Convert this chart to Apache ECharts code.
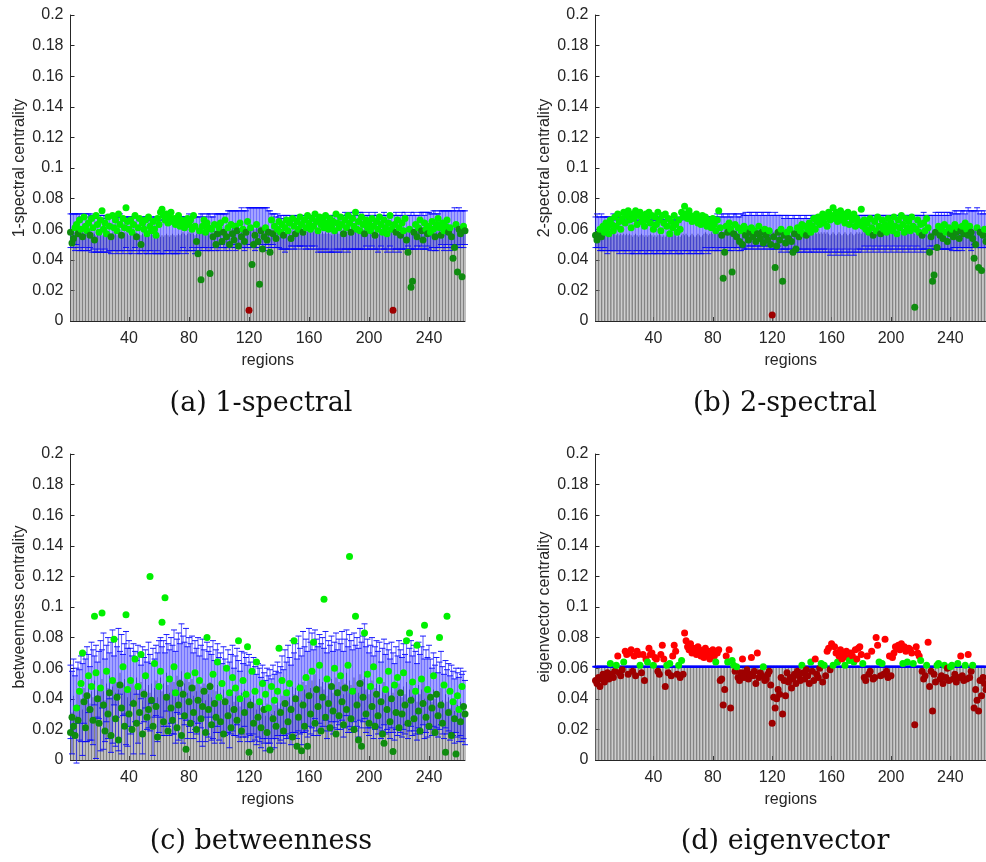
<!DOCTYPE html>
<html><head><meta charset="utf-8">
<script src="https://cdn.jsdelivr.net/npm/echarts@6/dist/echarts.min.js"></script>
<style>html,body{margin:0;padding:0;background:#fff}#c{width:986px;height:862px}</style>
</head><body><div id="c"></div>
<script>
// x tick labels (region index)
const regionTicks = [40, 80, 120, 160, 200, 240];
const regionCount = 264;

// ---------- (a) 1-spectral ----------
const mean_a = [
.059,.060,.059,.058,.060,.059,.058,.057,.058,.059,.058,.057,.058,.059,.057,.058,.057,.056,.057,.058,
.057,.056,.057,.058,.057,.056,.057,.056,.057,.058,.057,.056,.057,.058,.057,.056,.057,.058,.057,.056,
.057,.056,.057,.058,.057,.056,.055,.056,.057,.056,.057,.056,.055,.056,.057,.056,.055,.056,.057,.056,
.055,.056,.055,.056,.057,.056,.055,.056,.057,.056,.055,.056,.057,.056,.057,.058,.057,.056,.057,.058,
.057,.058,.057,.056,.057,.058,.057,.058,.059,.058,.057,.058,.059,.058,.057,.058,.059,.058,.059,.058,
.059,.060,.059,.058,.059,.060,.059,.060,.061,.060,.059,.060,.061,.060,.061,.060,.059,.060,.061,.062,
.061,.062,.061,.060,.061,.062,.061,.062,.061,.060,.061,.062,.061,.060,.059,.060,.059,.058,.059,.058,
.058,.057,.058,.057,.058,.057,.058,.059,.058,.057,.058,.059,.058,.059,.058,.059,.058,.057,.058,.059,
.058,.059,.058,.059,.058,.057,.058,.057,.058,.057,.058,.057,.058,.057,.056,.057,.058,.057,.058,.057,
.058,.057,.058,.059,.058,.057,.058,.059,.058,.059,.058,.059,.058,.059,.058,.059,.058,.059,.058,.059,
.058,.059,.058,.059,.058,.057,.058,.059,.058,.059,.058,.057,.058,.059,.058,.057,.058,.059,.058,.057,
.058,.059,.058,.059,.058,.059,.058,.059,.058,.059,.058,.059,.058,.059,.060,.059,.058,.059,.060,.059,
.058,.059,.060,.059,.058,.059,.060,.061,.060,.059,.060,.061,.060,.059,.060,.061,.062,.061,.060,.061,
.060,.061,.060,.061];
const std_a = [
.011,.010,.011,.012,.010,.011,.012,.011,.012,.011,.012,.011,.012,.011,.012,.011,.012,.011,.012,.011,
.012,.011,.012,.011,.012,.011,.011,.012,.011,.012,.011,.012,.011,.012,.011,.012,.011,.010,.011,.012,
.011,.012,.011,.010,.011,.012,.011,.010,.011,.012,.011,.012,.011,.010,.011,.012,.011,.012,.011,.012,
.011,.012,.011,.012,.011,.010,.011,.012,.011,.012,.011,.012,.011,.012,.011,.010,.011,.012,.011,.012,
.011,.010,.011,.012,.011,.010,.011,.012,.011,.010,.011,.012,.011,.012,.011,.010,.011,.012,.011,.012,
.011,.010,.011,.012,.011,.012,.013,.012,.011,.012,.013,.012,.011,.012,.013,.012,.013,.012,.013,.012,
.013,.012,.013,.014,.013,.012,.013,.012,.013,.014,.013,.012,.011,.012,.011,.010,.011,.010,.011,.010,
.011,.010,.011,.012,.011,.010,.011,.010,.009,.010,.011,.010,.009,.010,.011,.010,.009,.010,.011,.010,
.011,.010,.011,.010,.011,.012,.011,.012,.011,.012,.011,.012,.011,.012,.011,.012,.011,.012,.011,.012,
.011,.012,.011,.012,.011,.012,.011,.012,.011,.012,.011,.012,.011,.012,.011,.012,.011,.010,.011,.012,
.011,.010,.011,.012,.011,.012,.011,.010,.011,.012,.011,.012,.011,.010,.011,.012,.011,.012,.011,.012,
.011,.012,.011,.012,.011,.010,.011,.012,.011,.012,.011,.010,.011,.012,.011,.012,.011,.012,.011,.012,
.012,.011,.012,.013,.012,.011,.012,.011,.012,.013,.012,.011,.012,.013,.012,.011,.012,.011,.012,.013,
.012,.011,.012,.011];
const pt_a = [
.058,.051,.054,.061,.063,.057,.066,.060,.055,.068,.062,.059,.064,.056,.067,.061,.053,.069,.063,.058,
.066,.072,.060,.064,.057,.068,.062,.055,.069,.061,.066,.059,.070,.063,.056,.067,.061,.074,.065,.060,
.066,.058,.063,.069,.055,.061,.067,.050,.064,.060,.066,.057,.068,.062,.059,.065,.060,.056,.067,.063,
.071,.073,.069,.066,.070,.064,.068,.071,.065,.067,.063,.066,.069,.062,.066,.064,.061,.065,.067,.063,
.066,.060,.069,.062,.052,.044,.059,.027,.062,.066,.058,.064,.061,.031,.060,.055,.063,.050,.057,.061,
.064,.052,.058,.066,.055,.061,.050,.063,.057,.053,.062,.059,.049,.064,.055,.060,.052,.058,.065,.007,
.061,.037,.050,.056,.063,.052,.024,.059,.047,.055,.061,.053,.058,.045,.066,.057,.062,.054,.060,.065,
.058,.063,.056,.061,.066,.059,.064,.054,.067,.062,.057,.065,.060,.068,.063,.058,.066,.061,.069,.064,
.060,.067,.062,.070,.065,.059,.068,.063,.066,.061,.069,.064,.060,.067,.062,.065,.059,.070,.064,.061,
.068,.063,.057,.066,.061,.069,.064,.058,.067,.062,.071,.060,.065,.059,.068,.063,.057,.066,.061,.064,
.059,.067,.062,.056,.065,.060,.068,.063,.058,.066,.061,.057,.064,.069,.060,.007,.063,.058,.066,.061,
.056,.064,.059,.067,.053,.045,.060,.022,.026,.058,.063,.055,.061,.066,.059,.053,.064,.060,.057,.062,
.058,.065,.060,.055,.063,.067,.061,.056,.064,.059,.062,.066,.058,.061,.055,.041,.048,.063,.032,.060,
.057,.029,.062,.059];
const flagged_a = [120, 216];

// ---------- (b) 2-spectral ----------
const mean_b = [
.058,.059,.058,.057,.058,.057,.058,.057,.056,.057,.056,.057,.058,.057,.056,.057,.056,.057,.056,.057,
.056,.057,.056,.057,.056,.055,.056,.057,.056,.055,.056,.057,.056,.055,.056,.055,.056,.057,.056,.055,
.056,.055,.056,.057,.056,.055,.056,.055,.056,.057,.056,.055,.056,.057,.056,.055,.056,.055,.056,.057,
.056,.057,.056,.055,.056,.057,.056,.055,.056,.057,.056,.055,.056,.057,.058,.057,.056,.057,.058,.057,
.058,.057,.058,.057,.058,.059,.058,.057,.058,.059,.058,.057,.058,.059,.058,.059,.058,.057,.058,.059,
.058,.059,.058,.059,.060,.059,.058,.059,.060,.059,.058,.059,.060,.059,.058,.059,.060,.059,.058,.059,
.058,.059,.058,.059,.058,.057,.058,.057,.058,.057,.058,.057,.056,.057,.058,.057,.056,.057,.058,.057,
.056,.057,.058,.057,.056,.057,.058,.057,.058,.057,.058,.057,.058,.057,.058,.057,.058,.057,.056,.057,
.058,.057,.056,.057,.058,.057,.056,.057,.058,.057,.056,.057,.058,.057,.056,.057,.058,.057,.058,.057,
.058,.059,.058,.057,.058,.059,.058,.057,.058,.059,.058,.057,.058,.059,.058,.057,.058,.059,.058,.057,
.058,.059,.058,.057,.058,.059,.058,.057,.058,.059,.058,.057,.058,.059,.058,.057,.058,.059,.058,.057,
.058,.059,.058,.057,.058,.059,.058,.059,.058,.059,.058,.059,.058,.059,.058,.059,.058,.059,.058,.059,
.058,.059,.060,.059,.058,.059,.060,.059,.060,.059,.060,.061,.060,.059,.060,.061,.060,.061,.060,.059,
.060,.059,.060,.059];
const std_b = [
.010,.011,.010,.011,.012,.011,.010,.011,.012,.011,.010,.011,.012,.011,.010,.011,.012,.011,.010,.011,
.012,.011,.010,.011,.012,.011,.012,.011,.010,.011,.012,.011,.010,.011,.012,.011,.010,.011,.012,.011,
.010,.011,.012,.011,.010,.011,.012,.011,.010,.011,.012,.011,.010,.011,.012,.011,.010,.011,.012,.011,
.012,.011,.010,.011,.012,.011,.010,.011,.012,.011,.010,.011,.012,.011,.010,.011,.012,.011,.010,.011,
.010,.011,.012,.011,.010,.011,.012,.011,.010,.011,.012,.011,.010,.011,.012,.011,.010,.011,.012,.011,
.011,.012,.011,.010,.011,.012,.011,.010,.011,.012,.011,.010,.011,.012,.011,.010,.011,.012,.011,.010,
.011,.012,.011,.010,.011,.012,.011,.010,.011,.012,.011,.010,.011,.012,.011,.010,.011,.012,.011,.010,
.011,.012,.011,.010,.011,.012,.011,.012,.011,.012,.011,.012,.011,.012,.011,.012,.011,.012,.013,.012,
.011,.012,.013,.012,.011,.012,.013,.012,.011,.012,.013,.012,.011,.012,.013,.012,.011,.012,.011,.012,
.011,.010,.011,.012,.011,.010,.011,.012,.011,.010,.011,.012,.011,.010,.011,.012,.011,.010,.011,.012,
.011,.010,.011,.012,.011,.010,.011,.012,.011,.010,.011,.012,.011,.010,.011,.012,.011,.010,.011,.012,
.011,.012,.011,.012,.011,.010,.011,.010,.011,.012,.011,.012,.011,.012,.011,.012,.011,.012,.011,.012,
.012,.011,.012,.013,.012,.011,.012,.013,.012,.011,.012,.013,.012,.013,.012,.011,.012,.013,.012,.011,
.012,.011,.012,.011];
const pt_b = [
.056,.053,.057,.060,.055,.062,.058,.064,.061,.057,.066,.063,.059,.068,.062,.070,.065,.060,.067,.071,
.064,.069,.072,.066,.061,.070,.067,.072,.063,.069,.071,.065,.068,.062,.070,.066,.071,.064,.069,.060,
.068,.063,.071,.066,.059,.069,.064,.070,.062,.067,.057,.065,.061,.069,.063,.058,.066,.060,.071,.068,
.075,.070,.067,.072,.069,.065,.068,.066,.070,.064,.067,.063,.069,.065,.068,.062,.066,.064,.061,.067,
.063,.059,.066,.072,.061,.056,.028,.045,.062,.058,.064,.060,.032,.057,.063,.055,.061,.052,.059,.050,
.062,.056,.060,.053,.058,.061,.055,.059,.052,.057,.062,.054,.058,.051,.060,.056,.053,.059,.050,.004,
.055,.035,.049,.058,.053,.060,.026,.056,.051,.058,.054,.060,.052,.045,.057,.047,.061,.055,.059,.063,
.057,.062,.056,.060,.064,.058,.062,.067,.060,.065,.068,.063,.066,.070,.064,.068,.062,.071,.066,.069,
.074,.067,.071,.065,.069,.072,.066,.070,.064,.068,.071,.063,.069,.066,.070,.062,.067,.065,.063,.073,
.062,.066,.060,.064,.058,.067,.061,.056,.065,.059,.068,.062,.057,.066,.060,.063,.058,.067,.061,.064,
.059,.068,.062,.057,.066,.061,.069,.063,.058,.067,.061,.065,.059,.068,.062,.009,.060,.066,.058,.063,
.056,.064,.059,.067,.061,.045,.055,.026,.030,.058,.048,.062,.056,.060,.054,.063,.058,.052,.061,.057,
.060,.055,.063,.058,.061,.054,.059,.062,.057,.064,.060,.056,.062,.058,.054,.041,.050,.061,.035,.058,
.033,.056,.060,.052];
const flagged_b = [120];

// ---------- (c) betweenness ----------
const mean_c = [
.038,.031,.042,.035,.029,.044,.036,.040,.033,.047,.039,.043,.050,.037,.045,.041,.052,.038,.046,.049,
.042,.053,.045,.039,.050,.047,.055,.041,.048,.052,.044,.051,.046,.057,.043,.049,.053,.047,.041,.050,
.045,.052,.040,.048,.054,.043,.047,.051,.039,.046,.053,.042,.049,.044,.050,.038,.047,.052,.041,.048,
.054,.045,.050,.043,.057,.049,.044,.052,.046,.051,.041,.055,.048,.053,.058,.046,.050,.056,.044,.051,
.047,.053,.042,.049,.045,.052,.040,.048,.044,.050,.039,.047,.043,.051,.041,.046,.038,.045,.049,.040,
.044,.037,.046,.041,.039,.045,.036,.043,.047,.038,.042,.048,.040,.035,.044,.039,.046,.041,.037,.043,
.040,.035,.042,.037,.033,.039,.036,.031,.038,.034,.029,.037,.033,.035,.030,.038,.032,.036,.040,.034,
.037,.042,.035,.044,.039,.046,.041,.036,.048,.043,.047,.040,.050,.045,.039,.051,.046,.049,.043,.054,
.047,.052,.044,.056,.049,.045,.053,.048,.051,.046,.055,.042,.050,.047,.053,.044,.049,.054,.046,.051,
.048,.055,.043,.050,.057,.046,.052,.049,.045,.054,.047,.051,.044,.056,.049,.053,.058,.046,.050,.043,
.048,.052,.041,.047,.050,.044,.049,.039,.046,.051,.043,.048,.045,.040,.049,.044,.038,.047,.042,.050,
.045,.041,.048,.043,.051,.039,.046,.050,.042,.047,.044,.038,.049,.043,.046,.052,.040,.045,.041,.048,
.043,.038,.046,.040,.044,.036,.042,.047,.039,.035,.043,.038,.041,.034,.040,.037,.032,.039,.036,.033,
.038,.034,.036,.031];
const std_c = [
.024,.027,.024,.020,.031,.020,.023,.028,.030,.023,.027,.031,.019,.024,.032,.031,.016,.037,.018,.022,
.036,.019,.038,.027,.025,.033,.015,.036,.037,.016,.035,.023,.040,.014,.039,.020,.023,.037,.032,.028,
.028,.016,.036,.023,.011,.032,.023,.011,.035,.021,.019,.022,.028,.025,.013,.035,.019,.023,.029,.030,
.026,.029,.028,.027,.025,.027,.028,.028,.029,.034,.030,.024,.035,.023,.031,.035,.027,.030,.030,.029,
.029,.028,.028,.029,.028,.028,.028,.027,.035,.022,.027,.030,.028,.023,.028,.032,.027,.027,.027,.027,
.026,.026,.028,.025,.022,.027,.028,.026,.028,.022,.026,.025,.025,.023,.027,.024,.024,.026,.025,.026,
.024,.023,.025,.024,.023,.024,.024,.023,.024,.023,.023,.023,.022,.024,.023,.024,.024,.022,.024,.023,
.024,.026,.024,.028,.025,.029,.026,.026,.030,.027,.029,.026,.031,.028,.029,.033,.028,.030,.028,.032,
.030,.031,.028,.029,.030,.029,.029,.028,.029,.027,.029,.028,.028,.028,.028,.027,.028,.029,.026,.028,
.028,.029,.028,.029,.028,.028,.030,.029,.027,.029,.028,.029,.029,.030,.028,.028,.031,.028,.029,.027,
.027,.028,.027,.027,.028,.027,.028,.025,.027,.028,.026,.028,.027,.026,.028,.026,.025,.027,.026,.028,
.027,.026,.028,.026,.028,.025,.027,.028,.026,.028,.027,.025,.028,.026,.028,.029,.026,.027,.026,.027,
.023,.022,.024,.022,.023,.021,.022,.024,.022,.021,.022,.021,.022,.021,.022,.021,.021,.021,.021,.021,
.022,.022,.022,.021];
const pt_c = [
.018,.028,.022,.016,.034,.026,.045,.050,.070,.038,.021,.042,.055,.033,.048,.026,.094,.057,.040,.024,
.047,.096,.036,.019,.058,.030,.044,.016,.052,.079,.027,.041,.013,.049,.034,.061,.022,.095,.046,.030,
.052,.020,.037,.066,.024,.048,.031,.069,.017,.043,.055,.028,.033,.120,.039,.022,.063,.035,.015,.048,
.058,.090,.025,.106,.041,.019,.053,.034,.026,.061,.044,.021,.036,.050,.016,.043,.029,.007,.055,.038,
.024,.047,.031,.057,.020,.039,.052,.027,.035,.045,.018,.080,.033,.048,.023,.056,.037,.028,.064,.041,
.025,.050,.017,.038,.060,.029,.044,.021,.054,.033,.047,.026,.078,.040,.019,.052,.031,.043,.074,.005,
.036,.058,.024,.045,.064,.028,.038,.021,.050,.033,.043,.018,.034,.0065,.048,.027,.039,.022,.045,.073,
.031,.052,.019,.037,.044,.025,.050,.033,.015,.078,.040,.009,.028,.047,.006,.036,.022,.054,.009,.042,
.030,.058,.077,.024,.046,.035,.062,.019,.041,.105,.028,.053,.037,.021,.048,.032,.060,.017,.044,.029,
.055,.038,.023,.047,.033,.062,.133,.027,.045,.020,.094,.036,.013,.050,.009,.041,.083,.030,.056,.024,
.048,.035,.061,.022,.043,.029,.052,.038,.017,.011,.046,.033,.058,.025,.040,.0055,.049,.031,.054,.021,
.044,.030,.057,.036,.078,.024,.083,.039,.051,.027,.045,.075,.032,.019,.053,.037,.088,.028,.046,.022,
.041,.034,.055,.018,.043,.029,.080,.036,.024,.049,.005,.094,.031,.045,.016,.038,.027,.004,.042,.033,
.025,.048,.035,.030];
const flagged_c = [];

// ---------- (d) eigenvector ----------
const mean_d = [
.061,.061,.061,.061,.061,.061,.061,.061,.061,.061,.061,.061,.061,.061,.061,.061,.061,.061,.061,.061,
.061,.061,.061,.061,.061,.061,.061,.061,.061,.061,.061,.061,.061,.061,.061,.061,.061,.061,.061,.061,
.061,.061,.061,.061,.061,.061,.061,.061,.061,.061,.061,.061,.061,.061,.061,.061,.061,.061,.061,.061,
.061,.061,.061,.061,.061,.061,.061,.061,.061,.061,.061,.061,.061,.061,.061,.061,.061,.061,.061,.061,
.061,.061,.061,.061,.061,.061,.061,.061,.061,.061,.061,.061,.061,.061,.061,.061,.061,.061,.061,.061,
.061,.061,.061,.061,.061,.061,.061,.061,.061,.061,.061,.061,.061,.061,.061,.061,.061,.061,.061,.061,
.061,.061,.061,.061,.061,.061,.061,.061,.061,.061,.061,.061,.061,.061,.061,.061,.061,.061,.061,.061,
.061,.061,.061,.061,.061,.061,.061,.061,.061,.061,.061,.061,.061,.061,.061,.061,.061,.061,.061,.061,
.061,.061,.061,.061,.061,.061,.061,.061,.061,.061,.061,.061,.061,.061,.061,.061,.061,.061,.061,.061,
.061,.061,.061,.061,.061,.061,.061,.061,.061,.061,.061,.061,.061,.061,.061,.061,.061,.061,.061,.061,
.061,.061,.061,.061,.061,.061,.061,.061,.061,.061,.061,.061,.061,.061,.061,.061,.061,.061,.061,.061,
.061,.061,.061,.061,.061,.061,.061,.061,.061,.061,.061,.061,.061,.061,.061,.061,.061,.061,.061,.061,
.061,.061,.061,.061,.061,.061,.061,.061,.061,.061,.061,.061,.061,.061,.061,.061,.061,.061,.061,.061,
.061,.061,.061,.061];
const std_d = [
0,0,0,0,0,0,0,0,0,0,0,0,0,0,0,0,0,0,0,0,
0,0,0,0,0,0,0,0,0,0,0,0,0,0,0,0,0,0,0,0,
0,0,0,0,0,0,0,0,0,0,0,0,0,0,0,0,0,0,0,0,
0,0,0,0,0,0,0,0,0,0,0,0,0,0,0,0,0,0,0,0,
0,0,0,0,0,0,0,0,0,0,0,0,0,0,0,0,0,0,0,0,
0,0,0,0,0,0,0,0,0,0,0,0,0,0,0,0,0,0,0,0,
0,0,0,0,0,0,0,0,0,0,0,0,0,0,0,0,0,0,0,0,
0,0,0,0,0,0,0,0,0,0,0,0,0,0,0,0,0,0,0,0,
0,0,0,0,0,0,0,0,0,0,0,0,0,0,0,0,0,0,0,0,
0,0,0,0,0,0,0,0,0,0,0,0,0,0,0,0,0,0,0,0,
0,0,0,0,0,0,0,0,0,0,0,0,0,0,0,0,0,0,0,0,
0,0,0,0,0,0,0,0,0,0,0,0,0,0,0,0,0,0,0,0,
0,0,0,0,0,0,0,0,0,0,0,0,0,0,0,0,0,0,0,0,
0,0,0,0];
const pt_d = [
.052,.050,.054,.048,.053,.056,.051,.055,.057,.053,.063,.056,.054,.058,.062,.068,.057,.055,.059,.064,
.071,.069,.056,.070,.072,.058,.068,.055,.071,.069,.062,.057,.069,.052,.066,.064,.073,.069,.070,.062,
.067,.066,.058,.056,.069,.075,.066,.048,.062,.057,.063,.055,.068,.075,.071,.056,.062,.054,.065,.056,
.083,.078,.074,.072,.076,.070,.073,.071,.069,.074,.072,.068,.070,.067,.073,.069,.071,.066,.070,.072,
.068,.064,.070,.072,.052,.053,.036,.046,.068,.064,.072,.034,.065,.062,.058,.061,.054,.052,.057,.066,
.054,.057,.059,.053,.056,.067,.055,.058,.050,.070,.054,.057,.055,.061,.052,.053,.056,.058,.049,.024,
.041,.034,.040,.046,.043,.054,.030,.052,.042,.057,.051,.054,.047,.053,.056,.050,.058,.055,.052,.062,
.057,.053,.059,.055,.050,.064,.058,.052,.066,.056,.054,.060,.063,.051,.062,.055,.071,.073,.059,.076,
.062,.074,.070,.064,.068,.072,.066,.069,.062,.071,.067,.065,.070,.068,.064,.072,.066,.073,.074,.069,
.063,.054,.052,.068,.056,.058,.071,.053,.054,.080,.075,.064,.055,.063,.056,.079,.058,.054,.068,.055,
.067,.070,.074,.073,.075,.072,.076,.063,.074,.071,.064,.073,.072,.070,.063,.023,.074,.070,.068,.065,
.058,.053,.055,.062,.077,.048,.058,.032,.056,.051,.062,.063,.053,.055,.050,.062,.054,.060,.052,.061,
.062,.053,.056,.051,.063,.054,.068,.055,.052,.062,.053,.069,.054,.058,.062,.034,.046,.039,.032,.052,
.042,.054,.050,.046];

const panels = [
  {mean: mean_a, std: std_a, pt: pt_a, flagged: flagged_a, mode: 'spread', yName: '1-spectral centrality', caption: '(a) 1-spectral'},
  {mean: mean_b, std: std_b, pt: pt_b, flagged: flagged_b, mode: 'spread', yName: '2-spectral centrality', caption: '(b) 2-spectral'},
  {mean: mean_c, std: std_c, pt: pt_c, flagged: flagged_c, mode: 'spread', yName: 'betweenness centrality', caption: '(c) betweenness'},
  {mean: mean_d, std: std_d, pt: pt_d, flagged: [], mode: 'eig', yName: 'eigenvector centrality', caption: '(d) eigenvector'}
];

// layout (pixels)
const layout = [
  {left: 70.5, top: 15, capX: 261, capY: 404},
  {left: 595.5, top: 15, capX: 785, capY: 404},
  {left: 70.5, top: 454, capX: 261, capY: 842},
  {left: 595.5, top: 454, capX: 785, capY: 842}
];
const plotW = 394.5, plotH = 306;
const AX = '#262626';
const FONT = '"Liberation Sans", Arial, sans-serif';

const COL = {bright: '#00f000', dark: '#0f8c0f', red: '#ff0000', darkred: '#9e0000'};

function pointColor(p, i, v) {
  const region = i + 1;
  const m = p.mean[i];
  if (p.mode === 'eig') {
    if (v - m > 0.0045) return COL.red;
    if (v >= m) return COL.bright;
    return COL.darkred;
  }
  if (p.flagged.indexOf(region) >= 0) return COL.darkred;
  return v >= m ? COL.bright : COL.dark;
}

function barItem(params, api) {
  const x = api.value(0), y = api.value(1);
  const p0 = api.coord([x - 0.28, 0]);
  const p1 = api.coord([x + 0.28, y]);
  return {type: 'rect', shape: {x: p0[0], y: p1[1], width: p1[0] - p0[0], height: p0[1] - p1[1]},
          style: {fill: '#6a6a6a'}};
}
function errItem(params, api) {
  const x = api.value(0), m = api.value(1), s = api.value(2);
  const lo = api.coord([x, m - s]), hi = api.coord([x, m + s]);
  const a = api.coord([x - 0.5, m - s]), b = api.coord([x + 0.5, m + s]);
  const cw = 3;
  const vst = {stroke: '#1515ff', lineWidth: 0.5};
  const cst = {stroke: '#0000ff', lineWidth: s > 0 ? 0.9 : 1.6};
  const ch = [];
  if (s > 0) {
    ch.push({type: 'rect', shape: {x: a[0], y: b[1], width: b[0] - a[0], height: a[1] - b[1]},
             style: {fill: 'rgba(60,60,255,0.24)'}});
    ch.push({type: 'line', shape: {x1: lo[0], y1: lo[1], x2: hi[0], y2: hi[1]}, style: vst});
  }
  ch.push({type: 'line', shape: {x1: lo[0] - cw, y1: lo[1], x2: lo[0] + cw, y2: lo[1]}, style: cst});
  ch.push({type: 'line', shape: {x1: hi[0] - cw, y1: hi[1], x2: hi[0] + cw, y2: hi[1]}, style: cst});
  return {type: 'group', children: ch};
}

const grid = [], xAxis = [], yAxis = [], series = [], graphic = [];
panels.forEach((p, k) => {
  const L = layout[k];
  grid.push({left: L.left, top: L.top, width: plotW, height: plotH});
  xAxis.push({
    type: 'value', gridIndex: k, min: 1, max: regionCount,
    name: 'regions', nameLocation: 'middle', nameGap: 32,
    nameTextStyle: {color: AX, fontSize: 16, fontFamily: FONT},
    axisLine: {show: true, onZero: false, lineStyle: {color: AX, width: 1}},
    axisTick: {show: true, inside: true, length: 4, customValues: regionTicks, lineStyle: {color: AX}},
    axisLabel: {show: true, customValues: regionTicks, color: AX, fontSize: 16, fontFamily: FONT, margin: 10},
    splitLine: {show: false}
  });
  yAxis.push({
    type: 'value', gridIndex: k, min: 0, max: 0.2, interval: 0.02,
    name: p.yName, nameLocation: 'middle', nameGap: 43,
    nameTextStyle: {color: AX, fontSize: 16, fontFamily: FONT},
    axisLine: {show: true, lineStyle: {color: AX, width: 1}},
    axisTick: {show: true, inside: true, length: 4, lineStyle: {color: AX}},
    axisLabel: {color: AX, fontSize: 16, fontFamily: FONT, margin: 7},
    splitLine: {show: false}
  });
  const barData = p.mean.map((m, i) => [i + 1, m]);
  const errData = p.mean.map((m, i) => [i + 1, m, p.std[i]]);
  const ptData = p.pt.map((v, i) => ({value: [i + 1, v], itemStyle: {color: pointColor(p, i, v)}}));
  series.push({type: 'custom', xAxisIndex: k, yAxisIndex: k, renderItem: barItem, data: barData,
               encode: {x: 0, y: 1}, clip: true, z: 1, silent: true, animation: false});
  series.push({type: 'custom', xAxisIndex: k, yAxisIndex: k, renderItem: errItem, data: errData,
               encode: {x: 0, y: 1}, clip: false, z: 2, silent: true, animation: false});
  series.push({type: 'scatter', xAxisIndex: k, yAxisIndex: k, data: ptData, symbol: 'circle',
               symbolSize: 7, z: 3, silent: true, animation: false, itemStyle: {opacity: 1}});
  graphic.push({type: 'text', x: L.capX, y: L.capY,
    style: {text: p.caption, align: 'center', verticalAlign: 'middle',
            fontFamily: '"DejaVu Serif", serif', fontSize: 27, fill: '#111'}});
});

const chart = echarts.init(document.getElementById('c'), null, {renderer: 'canvas'});
chart.setOption({animation: false, backgroundColor: '#fff', grid, xAxis, yAxis, series, graphic});
</script>
</body></html>
